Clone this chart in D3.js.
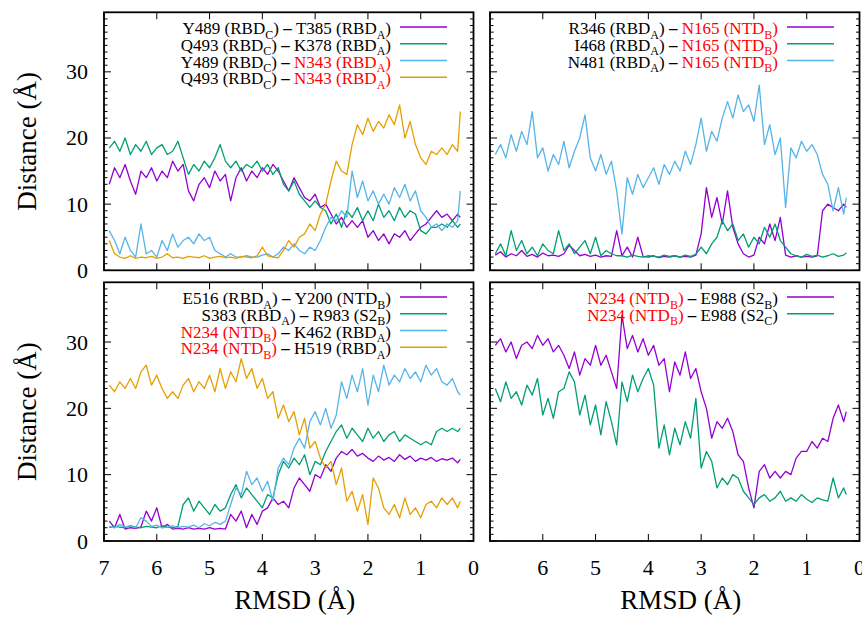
<!DOCTYPE html>
<html><head><meta charset="utf-8">
<script src="https://cdn.jsdelivr.net/npm/d3@7"></script>
</head><body style="margin:0">
<svg id="c" width="862" height="618" style="position:absolute;left:0;top:0"></svg>
<script>
// ---------- data ----------
const rmsd = [6.9,6.8,6.7,6.6,6.5,6.4,6.3,6.2,6.1,6.0,5.9,5.8,5.7,5.6,5.5,5.4,5.3,5.2,5.1,5.0,4.9,4.8,4.7,4.6,4.5,4.4,4.3,4.2,4.1,4.0,3.9,3.8,3.7,3.6,3.5,3.4,3.3,3.2,3.1,3.0,2.9,2.8,2.7,2.6,2.5,2.4,2.3,2.2,2.1,2.0,1.9,1.8,1.7,1.6,1.5,1.4,1.3,1.2,1.1,1.0,0.9,0.8,0.7,0.6,0.5,0.4,0.3,0.25];

const xTicks = [7,6,5,4,3,2,1,0];
const yTicks = [0,10,20,30];
const yMinor = [1,2,3,4,5,6,7,8,9,11,12,13,14,15,16,17,18,19,21,22,23,24,25,26,27,28,29,31,32,33,34,35,36,37,38];

// top-left
const tlPurple = [13,15.5,14,16,13.5, 11.5,15, 14,15.5,13.5,15,14,16.5,15, 16,12,10.5,13, 14,12.5,15,13.5,14.5, 10.5, 14,15.5,13.5,15,14,15.5,14.5, 16,15, 13.5,12,14,12.5, 11,10.5,11.5, 9.5,10,8.5, 7,8,6.5,7.5, 6.5,7.5, 5,6,4.5,5.5,4,5.5,5,6,4.5,5.5, 6.5,7,8, 9,8,8.5,7.5,8.5,8];
const tlGreen = [18.5,19.5,18,20,17.5,19,18,19.5,17.5,18.5,19,17.5,18,19.5, 17,14.5,16,15, 16.5,15.5,17, 19,16.5, 15.5,16.5,15,16,15.5,16.5,15,16, 14.5,15.5, 13,12,13.5,11.5, 10.5,9.5,10.5,9.5, 9,7,8.5,6.5,9, 8,9.5,7.5, 9,7.5,10,8,9,7.5,9.5,8,9,8.5, 6,5.5,6.5, 6.5,7,6.5,7.5,6.5,7];
const tlBlue = [6,4.5,2.5,5,3,2, 7, 2.5,3,2,4.5, 3,5.5,3.5,4.5, 5,4,5.5,4.5,5, 3,2.5,2,2.5, 2,2,2.2,2,2,2.3, 2.5,2,2.5, 3.5,3,4,3, 2.5,3.5,3, 4.5,6.5, 8,7.5,9,8, 15,11,13.5, 10.5,12,10,11.5,10,12.5, 11,13,10.5,12, 9,8, 6.5,7,6,7,6.5,7.5, 12];
const tlOrange = [4.5,2.5, 2,1.8,2.2,1.8,2,1.9,2.1,1.8,2,2.5,1.9,2,1.8,2.1,2,1.9,2.2,1.8,2,2.1,1.9,2,1.8,2.1,2,1.9,2.2, 3.5,2.2, 2,1.9, 3,4.5,3.5,5, 5.5,7,6, 8.5,10, 13.5,16.5,15, 14.5,19, 22,20.5,23,21,22.5,21.5,23.5,22,25, 20,22.5,19, 17,16,18, 17.5,18.5,17.5,19,18, 24];

// top-right
const trPurple = [2.3,2.8,2,2.5,2.2,3,2.1,2.4,2,2.6,2.2,2.3,2.1,2.5,3.8,3,2.2,2.4,2.1,2.3,2,2.2,2.1, 6,2.2,3.5,2, 5, 2.1,2,2.2,1.9,2.1,2,2.2,2,2.1,2,2.3, 5.5, 12.5,8,11,7,12, 6.5,4, 2.5,2,2.3, 5,4, 7,4.5,8, 2.3,2,2.2,2,2.1,2,2.2, 9,10,9.5,9,10,9.5];
const trGreen = [2.5,4,2.2,6,3,4.5,2.5,3.5,2.2,4,3,2.5,6,3,4,2.5,3.5,4.5,2.5,5,2.2,3,2.5,2.2, 2.2,2,2.3,2.1,2,2.2,2.1,2,2.3,2.1,2.2,2,2.3,2.1,2.4, 3.5,2.5,4, 5,7.5,6,7, 4.5,5.5,3.5,5, 4,6.5,5,7,4.5, 3.5,2.5, 2.2,2,2.4,2.1,2.3,2,2.2,2.5,2.1,2.3,2.6];
const trBlue = [17.5,19,17,20.5,18,21,19,24, 17,18.5,15,17.5, 16,19.5,15.5,18,20, 23.5, 17,15,17.5,14.5,16.5, 12,5.5,14, 11.5,14.5,12.5, 14,15.5,13,16,14.5, 16.5,15,18,16,19, 23, 18,21,19.5,23, 25.5,23,26.5,24,25,22.5,28, 19,22,17.5,20, 9.5, 18.5,17,19.5,18,19,17.5, 14.5,13, 9,12.5,8.5,11];

// bottom-left
const blPurple = [3,2,4, 1.8,2,1.9,2.1, 4.5,3,5, 2,2.5, 1.8,1.9,1.8,2,1.8,1.9,1.8,2,1.8,1.9,1.8, 4,3,4.5,2,4,2.5,4.5, 5,6.5,5.5,6,5, 8,9.5,8.5, 7.5,10,9.5, 11.5,10.5,12.5, 13.5,13,13.8,12.8,13.2, 12.5,12,12.8,12.2,12.6,12,13,12.3,12.8,12,12.5,12.2,12.6,12,12.4,12.2,12.5,11.8,12.3];
const blGreen = [2,2.2,2.1,2,2.3,2.1,2,2.2,2.1,2,2.3,2.1,2,2.2, 5.5, 6.5,4.5,6,5,4,5.5,4.5,5, 7,8.5,6.5,8,7, 6,5,7,6.5, 10,12,11, 12.5,11.5,13, 10,12,11.5, 13.5,15, 16.5,17.5,15.5,17,16,15,17,15.5,16.5,15,16,16.5,15,16,15.5,15, 14.5,15,14.5, 16.5,17,16.5,17,16.5,17];
const blBlue = [2.2,2,2.5,2.1,2.3,2,3.5,3,2.2,2.4,2,2.1,2.3,2,2.2,2.1,2.4,2,2.6,2.3,2.8,2.5, 3,5.5, 8,7,10.5,8.5,9.5, 7.5,9,6, 11,12.5,11.5, 14,15.5,14, 18,19.5,17.5,20, 17,19, 24,21.5, 25,22.5,26,20.5, 25,22.5,26.5,23.5, 25,24,26,24.5,25.5,24,26.5, 25,26,24, 23.5,24.5,22.5,22];
const blOrange = [23.5,22.5,24,23,24.5,23, 25.5,26.5, 23.5,25,23, 21.5,22.5,21.5, 23.5,24.5,22.5,24,23, 25,22.5,26,23, 25.5,24,27.5,24.5,26, 23,24.5, 21.5,22.5, 18.5,20.5,18, 19.5,16, 18.5,14,15, 12.5,11, 12,8.5,11, 6,7.5,4.5,7, 2.5, 9.5,8, 5,4, 5.5,3.5,6.5,4,5,3.5,5.5, 6,5,6.5,5.5,6.5,5,6];

// bottom-right
const brPurple = [29.5,30.5,28.5,30,27.5,29.5, 30,29,31,29.5, 30.5,28.5,29.5,28,26, 28.5,25,27.5,26.5, 29.5,26.5,28,25.5, 23, 34,29,31,28.5, 30.5,28,29.5, 26.5,27.5, 22.5, 27,25,28.5,24.5,26, 22.5,20, 15.5,18, 17,18.5,16.5, 13,12, 8,5, 10.5,11.5,9.5,10.5, 9.5,10.5,10, 12.5,13.5, 13.5,15,14,15.5,15, 18.5,20.5,18,19.5];
const brGreen = [23,21,24,21.5,22.5,20.5,23.5,22,24.5, 19,21.5,18.5,22.5, 23,25.5,24, 19,22,17.5, 20.5,16,21,18,14.5, 24,21,25,22.5, 24.5,26,23.5, 14,17.5,13, 17,14.5,18,15.5,21.5, 11,13.5,12, 8,9.5,8.5, 10,9.5, 7.5,6.5, 5.5,6.5,7,6,6.5,7.5,6,6.5,6,7,6.3,5.8,6.5,6.2,6, 9.5,6.5,8,7];

// legend labels
const tlLabels = [
  {a:"Y489 (RBD", as:"C", ar:0, b:"T385 (RBD", bs:"A", br:0},
  {a:"Q493 (RBD", as:"C", ar:0, b:"K378 (RBD", bs:"A", br:0},
  {a:"Y489 (RBD", as:"C", ar:0, b:"N343 (RBD", bs:"A", br:1},
  {a:"Q493 (RBD", as:"C", ar:0, b:"N343 (RBD", bs:"A", br:1}];
const trLabels = [
  {a:"R346 (RBD", as:"A", ar:0, b:"N165 (NTD", bs:"B", br:1},
  {a:"I468 (RBD", as:"A", ar:0, b:"N165 (NTD", bs:"B", br:1},
  {a:"N481 (RBD", as:"A", ar:0, b:"N165 (NTD", bs:"B", br:1}];
const blLabels = [
  {a:"E516 (RBD", as:"A", ar:0, b:"Y200 (NTD", bs:"B", br:0},
  {a:"S383 (RBD", as:"A", ar:0, b:"R983 (S2", bs:"B", br:0},
  {a:"N234 (NTD", as:"B", ar:1, b:"K462 (RBD", bs:"A", br:0},
  {a:"N234 (NTD", as:"B", ar:1, b:"H519 (RBD", bs:"A", br:0}];
const brLabels = [
  {a:"N234 (NTD", as:"B", ar:1, b:"E988 (S2", bs:"B", br:0},
  {a:"N234 (NTD", as:"B", ar:1, b:"E988 (S2", bs:"C", br:0}];

// ---------- drawing ----------
const FONT = "serif";
const C = {purple:"#9400d3", green:"#009e73", blue:"#56b4e9", orange:"#e69f00"};
const svg = d3.select("#c");
svg.append("rect").attr("width",862).attr("height",618).attr("fill","#fff");
const marks = svg.append("g");
const T = (x, y, size, anchor) => svg.append("text").attr("font-family",FONT).attr("font-size",size)
    .attr("x",x).attr("y",y).attr("text-anchor",anchor).attr("fill","#000");

const panels = [
  {x0:104, x1:473.5, y0:12.3, y1:270.3, yLab:true, xLab:null,
   series:[[tlPurple,C.purple],[tlGreen,C.green],[tlBlue,C.blue],[tlOrange,C.orange]], labels:tlLabels, legX:391, legL:[400,447]},
  {x0:490, x1:859.5, y0:12.3, y1:270.3, yLab:false, xLab:null,
   series:[[trPurple,C.purple],[trGreen,C.green],[trBlue,C.blue]], labels:trLabels, legX:778, legL:[787,834]},
  {x0:104, x1:473.5, y0:282.3, y1:541, yLab:true, xLab:xTicks,
   series:[[blPurple,C.purple],[blGreen,C.green],[blBlue,C.blue],[blOrange,C.orange]], labels:blLabels, legX:391, legL:[400,447]},
  {x0:490, x1:859.5, y0:282.3, y1:541, yLab:false, xLab:xTicks.slice(1),
   series:[[brPurple,C.purple],[brGreen,C.green]], labels:brLabels, legX:778, legL:[787,834]}
];

panels.forEach(p => {
  const x = d3.scaleLinear().domain([7,0]).range([p.x0,p.x1]);
  const y = d3.scaleLinear().domain([0,39]).range([p.y1,p.y0]);
  const g = marks;

  const line = d3.line().x((d,i)=>x(rmsd[i])).y(d=>y(d));
  p.series.forEach(([vals,col]) => {
    g.append("path").attr("d", line(vals)).attr("fill","none")
      .attr("stroke", col).attr("stroke-width",1.3).attr("stroke-linejoin","round");
  });

  const tk = (x1,y1,x2,y2) => g.append("line").attr("x1",x1).attr("y1",y1).attr("x2",x2).attr("y2",y2)
      .attr("stroke","#000").attr("stroke-width",1);
  yTicks.forEach(v => { tk(p.x0,y(v),p.x0+7,y(v)); tk(p.x1,y(v),p.x1-7,y(v)); });
  yMinor.forEach(v => { tk(p.x0,y(v),p.x0+3.5,y(v)); tk(p.x1,y(v),p.x1-3.5,y(v)); });
  xTicks.forEach(v => { tk(x(v),p.y0,x(v),p.y0+7); tk(x(v),p.y1,x(v),p.y1-7); });

  if (p.yLab) yTicks.forEach(v => T(p.x0-16, y(v)+7.5, 22, "end").text(v));
  if (p.xLab) p.xLab.forEach(v => T(x(v), p.y1+33.5, 22, "middle").text(v));

  g.append("rect").attr("x",p.x0).attr("y",p.y0).attr("width",p.x1-p.x0).attr("height",p.y1-p.y0)
    .attr("fill","none").attr("stroke","#000").attr("stroke-width",1.8);

  const cols = p.series.map(s=>s[1]);
  p.labels.forEach((L,i) => {
    const base = p.y0 + 21.8 + i*16.7;
    const t = T(p.legX, base, 17, "end");
    const ca = L.ar ? "#ff0000" : "#000", cb = L.br ? "#ff0000" : "#000";
    t.append("tspan").attr("fill",ca).text(L.a);
    t.append("tspan").attr("fill",ca).attr("font-size",12).attr("dy",4.5).text(L.as);
    t.append("tspan").attr("fill",ca).attr("dy",-4.5).text(")");
    t.append("tspan").attr("fill","#000").attr("font-weight","bold").text(" \u2013 ");
    t.append("tspan").attr("fill",cb).text(L.b);
    t.append("tspan").attr("fill",cb).attr("font-size",12).attr("dy",4.5).text(L.bs);
    t.append("tspan").attr("fill",cb).attr("dy",-4.5).text(")");
    g.append("line").attr("x1",p.legL[0]).attr("x2",p.legL[1]).attr("y1",base-7).attr("y2",base-7)
      .attr("stroke",cols[i]).attr("stroke-width",1.5);
  });

  if (p.yLab) {
    T(0, 0, 27, "middle").attr("transform",`translate(36,${(p.y0+p.y1)/2}) rotate(-90)`).text("Distance (Å)");
  }
  if (p.xLab) {
    T((p.x0+p.x1)/2+6, 609, 27, "middle").text("RMSD (Å)");
  }
});
</script>
</body></html>
